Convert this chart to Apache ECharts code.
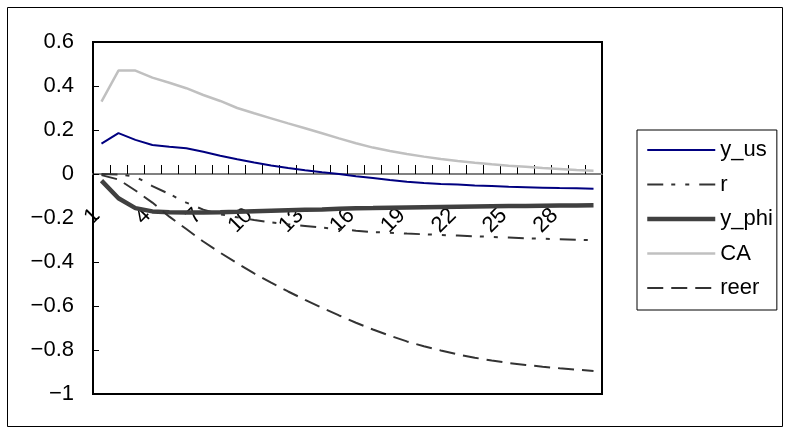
<!DOCTYPE html>
<html>
<head>
<meta charset="utf-8">
<script src="https://cdn.jsdelivr.net/npm/echarts@6/dist/echarts.min.js"></script>
<style>
  html, body { margin: 0; padding: 0; background: #fff; }
  #chart { width: 787px; height: 430px; }
</style>
</head>
<body>
<div id="chart"></div>
<script>
// 数据
const periods = ['1', '2', '3', '4', '5', '6', '7', '8', '9', '10',
    '11', '12', '13', '14', '15', '16', '17', '18', '19', '20',
    '21', '22', '23', '24', '25', '26', '27', '28', '29', '30'];

const yUs = [0.138, 0.186, 0.155, 0.132, 0.124, 0.117, 0.101, 0.083, 0.067, 0.052,
    0.039, 0.027, 0.017, 0.008, 0.0, -0.01, -0.018, -0.027, -0.035, -0.041,
    -0.045, -0.048, -0.052, -0.055, -0.058, -0.06, -0.062, -0.064, -0.065, -0.067];

const r = [0, -0.002, -0.012, -0.055, -0.091, -0.13, -0.162, -0.183, -0.197, -0.209,
    -0.22, -0.229, -0.236, -0.244, -0.25, -0.258, -0.264, -0.267, -0.271, -0.274,
    -0.277, -0.28, -0.283, -0.286, -0.289, -0.292, -0.294, -0.297, -0.299, -0.301];

const yPhi = [-0.03, -0.11, -0.155, -0.17, -0.174, -0.175, -0.175, -0.174, -0.172, -0.169,
    -0.167, -0.165, -0.163, -0.161, -0.158, -0.156, -0.155, -0.153, -0.152, -0.151,
    -0.15, -0.149, -0.148, -0.147, -0.146, -0.145, -0.144, -0.143, -0.143, -0.142];

const ca = [0.329, 0.47, 0.47, 0.438, 0.415, 0.39, 0.359, 0.332, 0.30, 0.276,
    0.253, 0.23, 0.208, 0.185, 0.162, 0.14, 0.12, 0.105, 0.091, 0.079,
    0.068, 0.059, 0.051, 0.044, 0.038, 0.033, 0.027, 0.023, 0.018, 0.015];

const reer = [-0.005, -0.025, -0.075, -0.13, -0.194, -0.25, -0.307, -0.358, -0.406, -0.452,
    -0.494, -0.534, -0.572, -0.608, -0.643, -0.676, -0.707, -0.735, -0.761, -0.783,
    -0.802, -0.82, -0.835, -0.848, -0.859, -0.868, -0.876, -0.883, -0.889, -0.895];

const FONT = '"Liberation Sans", Arial, sans-serif';
const FONT_SIZE = 22;

// 线型: 颜色, 宽度, 虚线
const styles = {
    y_us: ['#000080', 2, 'solid'],
    r: ['#333333', 2, [16, 8, 4, 10, 4, 10]],
    y_phi: ['#404040', 4.5, 'solid'],
    CA: ['#c0c0c0', 2.5, 'solid'],
    reer: ['#333333', 2, [16, 8]]
};
const seriesData = { y_us: yUs, r: r, y_phi: yPhi, CA: ca, reer: reer };
const seriesNames = ['y_us', 'r', 'y_phi', 'CA', 'reer'];

function lineSeries(name) {
    const [color, width, type] = styles[name];
    return {
        name: name,
        type: 'line',
        data: seriesData[name],
        symbol: 'none',
        smooth: false,
        lineStyle: { color: color, width: width, type: type },
        itemStyle: { color: color }
    };
}

function legendItem(name) {
    const [color, width, type] = styles[name];
    return {
        name: name,
        itemStyle: { opacity: 0 },
        lineStyle: { color: color, width: width, type: type }
    };
}

const chart = echarts.init(document.getElementById('chart'));

chart.setOption({
    animation: false,
    backgroundColor: '#fff',
    textStyle: { fontFamily: FONT },
    graphic: [{
        type: 'rect',
        left: 5,
        top: 5,
        shape: { width: 775, height: 419 },
        style: { fill: null, stroke: '#000', lineWidth: 1 },
        z: -1
    }],
    grid: {
        left: 93, top: 42, right: 185, bottom: 36,
        show: true,
        borderColor: '#000',
        borderWidth: 2,
        outerBoundsMode: 'none'
    },
    legend: {
        orient: 'vertical',
        left: 637,
        top: 130,
        data: seriesNames.map(legendItem),
        itemWidth: 68,
        itemHeight: 14,
        itemGap: 10.5,
        padding: [8, 4, 10, 8],
        borderColor: '#000',
        borderWidth: 1,
        textStyle: { fontSize: FONT_SIZE, color: '#000', fontFamily: FONT, lineHeight: 24 }
    },
    xAxis: {
        type: 'category',
        data: periods,
        boundaryGap: true,
        position: 'bottom',
        offset: -220,
        axisLine: { onZero: false, lineStyle: { color: '#808080', width: 2 } },
        axisTick: { show: true, inside: true, length: 9, interval: 0, lineStyle: { color: '#000', width: 1 } },
        axisLabel: {
            interval: 2,
            rotate: 45,
            margin: 33,
            padding: [0, 7, 0, 0],
            fontSize: FONT_SIZE,
            color: '#000',
            fontFamily: FONT
        },
        splitLine: { show: false }
    },
    yAxis: {
        type: 'value',
        min: -1,
        max: 0.6,
        interval: 0.2,
        axisLine: { show: true, lineStyle: { color: '#000', width: 2 } },
        axisTick: { show: true, inside: true, length: 6, lineStyle: { color: '#000' } },
        axisLabel: {
            margin: 19,
            fontSize: FONT_SIZE,
            color: '#000',
            fontFamily: FONT,
            formatter: v => {
                const a = +Math.abs(v).toFixed(1);
                return (v < -1e-9 ? '\u2212' : '') + a;
            }
        },
        splitLine: { show: false }
    },
    series: seriesNames.map(lineSeries)
});
</script>
</body>
</html>
